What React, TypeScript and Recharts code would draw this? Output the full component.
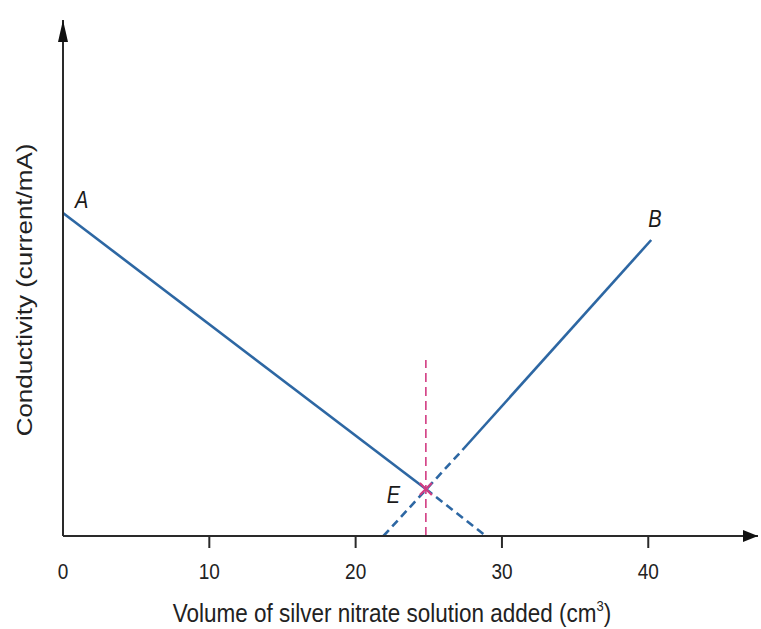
import React from "react";
import { ComposedChart, Line, Scatter, XAxis, YAxis } from "recharts";

// volume of AgNO3 (cm3) vs conductivity (arbitrary mA units)
const xTicks = [0, 10, 20, 30, 40];
const lineASolid = [
  { x: 0, y: 32.3 },
  { x: 24.8, y: 4.7 },
];
const lineADash = [
  { x: 24.8, y: 4.7 },
  { x: 28.9, y: 0 },
];
const lineBDash = [
  { x: 21.9, y: 0 },
  { x: 27.3, y: 8.6 },
];
const lineBSolid = [
  { x: 27.3, y: 8.6 },
  { x: 40.2, y: 29.6 },
];
const endPointLine = [
  { x: 24.8, y: 0 },
  { x: 24.8, y: 17.6 },
];
const endPoint = [{ x: 24.8, y: 4.7 }];
const pointLabels = [
  { x: 0, y: 32.3, name: "A" },
  { x: 40.2, y: 29.6, name: "B" },
  { x: 24.8, y: 4.7, name: "E" },
];
const arrowTips = [
  { x: 0, y: 51.6, dir: "up" },
  { x: 47.5, y: 0, dir: "right" },
];

const BLUE = "#2d67a3";
const MAGENTA = "#d23c82";
const AXIS = "#2a2a2a";
const FONT = "'Liberation Sans', Arial, sans-serif";
// the source art is a little taller than wide, so text is stretched vertically
const STRETCH = 1.18;

const labelOffset: Record<string, [number, number]> = {
  A: [12, -5],
  B: [-3, -13],
  E: [-39, 14],
};

function ArrowHead(props: any) {
  const { cx, cy, payload } = props;
  if (payload.dir === "up") {
    return <polygon points={`${cx},${cy} ${cx - 5},${cy + 22} ${cx + 5},${cy + 22}`} fill="#111" />;
  }
  return <polygon points={`${cx},${cy} ${cx - 15},${cy - 6} ${cx - 15},${cy + 6}`} fill="#111" />;
}

function PointLabel(props: any) {
  const { cx, cy, payload } = props;
  const [dx, dy] = labelOffset[payload.name];
  return (
    <text
      transform={`translate(${cx + dx} ${cy + dy}) scale(1 ${STRETCH})`}
      fontSize={20}
      fontStyle="italic"
      fill="#1a1a1a"
      fontFamily={FONT}
    >
      {payload.name}
    </text>
  );
}

function Cross(props: any) {
  const { cx, cy } = props;
  const s = 6;
  return (
    <g stroke={MAGENTA} strokeWidth={2.2}>
      <line x1={cx - s} y1={cy - s} x2={cx + s} y2={cy + s} />
      <line x1={cx - s} y1={cy + s} x2={cx + s} y2={cy - s} />
    </g>
  );
}

function XTick(props: any) {
  const { x, y, payload } = props;
  return (
    <g>
      {payload.value !== 0 && <line x1={x} y1={y} x2={x} y2={y + 12} stroke={AXIS} strokeWidth={2} />}
      <text
        transform={`translate(${x} ${y + 43}) scale(1 ${STRETCH})`}
        textAnchor="middle"
        fontSize={19}
        fill="#222"
        fontFamily={FONT}
      >
        {payload.value}
      </text>
    </g>
  );
}

function XTitle() {
  return (
    <text
      transform={`translate(392 622) scale(1 ${STRETCH})`}
      textAnchor="middle"
      fontSize={22.5}
      fill="#222"
      fontFamily={FONT}
    >
      Volume of silver nitrate solution added (cm
      <tspan dy={-9} fontSize={13}>3</tspan>
      <tspan dy={9}>)</tspan>
    </text>
  );
}

function YTitle() {
  return (
    <text
      transform={`translate(32 290) scale(1 ${STRETCH}) rotate(-90)`}
      textAnchor="middle"
      fontSize={22}
      fill="#222"
      fontFamily={FONT}
    >
      Conductivity (current/mA)
    </text>
  );
}

export default function App() {
  return (
    <div style={{ position: "absolute", left: 0, top: 0, background: "#fff" }}>
      <ComposedChart width={761} height={629} margin={{ top: 20, right: 3, bottom: 0, left: 0 }}>
        <XAxis
          type="number"
          dataKey="x"
          domain={[0, 47.5]}
          ticks={xTicks}
          tickSize={0}
          tickMargin={0}
          tickLine={false}
          tick={<XTick />}
          axisLine={{ stroke: AXIS, strokeWidth: 2 }}
          height={93}
          label={<XTitle />}
        />
        <YAxis
          type="number"
          domain={[0, 51.6]}
          tick={false}
          tickLine={false}
          width={63}
          axisLine={{ stroke: AXIS, strokeWidth: 2 }}
          label={<YTitle />}
        />
        <Line data={endPointLine} dataKey="y" stroke={MAGENTA} strokeWidth={1.6} strokeDasharray="9 5" dot={false} activeDot={false} isAnimationActive={false} />
        <Line data={lineASolid} dataKey="y" stroke={BLUE} strokeWidth={2.6} dot={false} activeDot={false} isAnimationActive={false} />
        <Line data={lineADash} dataKey="y" stroke={BLUE} strokeWidth={2.6} strokeDasharray="8 5" dot={false} activeDot={false} isAnimationActive={false} />
        <Line data={lineBDash} dataKey="y" stroke={BLUE} strokeWidth={2.6} strokeDasharray="8 5" dot={false} activeDot={false} isAnimationActive={false} />
        <Line data={lineBSolid} dataKey="y" stroke={BLUE} strokeWidth={2.6} dot={false} activeDot={false} isAnimationActive={false} />
        <Scatter data={endPoint} dataKey="y" shape={<Cross />} isAnimationActive={false} />
        <Scatter data={pointLabels} dataKey="y" shape={<PointLabel />} isAnimationActive={false} />
        <Scatter data={arrowTips} dataKey="y" shape={<ArrowHead />} isAnimationActive={false} />
      </ComposedChart>
    </div>
  );
}
